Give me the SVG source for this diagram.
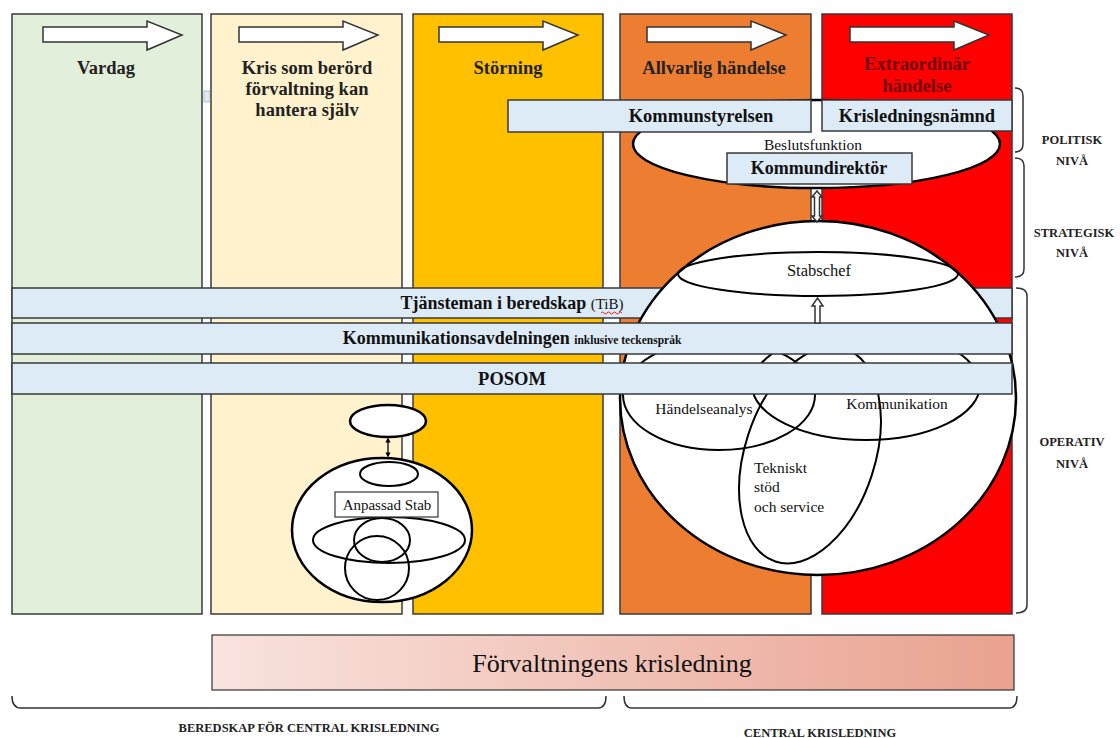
<svg xmlns="http://www.w3.org/2000/svg" width="1120" height="738" viewBox="0 0 1120 738" font-family="'Liberation Serif','DejaVu Serif',serif">
<defs>
<style>
.col{stroke:#3a3a3a;stroke-width:1.5}
.band{fill:#DDEBF7;stroke:#3a3a3a;stroke-width:1.5}
.ell{fill:#fff;stroke:#000;stroke-width:2.5}
.in{fill:none;stroke:#000;stroke-width:2}
.t{font-family:"Liberation Serif","DejaVu Serif",serif;fill:#111}
.b{font-weight:bold}
.hdr{font-size:18.5px;font-weight:bold;text-anchor:middle;font-family:"Liberation Serif","DejaVu Serif",serif;fill:#222}
.lvl{font-size:12.5px;font-weight:bold;text-anchor:middle;font-family:"Liberation Serif","DejaVu Serif",serif;fill:#222}
.brace{fill:none;stroke:#333;stroke-width:1.5}
.arr{fill:#fff;stroke:#333;stroke-width:1.5}
</style>
<polygon id="blk" points="31,27 135,27 135,21 170,35 135,50 135,42 31,42"/>
<linearGradient id="gr" x1="0" y1="0" x2="1" y2="0">
<stop offset="0" stop-color="#F9E3DF"/>
<stop offset="1" stop-color="#E9A28F"/>
</linearGradient>
<marker id="dh" viewBox="0 0 6 6" refX="3" refY="3" markerWidth="4" markerHeight="4" orient="auto-start-reverse"><path d="M0,0 L6,3 L0,6 z" fill="#000"/></marker>
</defs>
<rect width="1120" height="738" fill="#fff"/>

<g id="columns">
<g id="col-vardag"><rect class="col" x="12" y="14" width="190" height="600" fill="#E2EFDA"/><use href="#blk" x="12" class="arr"/><text class="hdr" x="106" y="74">Vardag</text></g>
<g id="col-kris"><rect class="col" x="211" y="14" width="191" height="600" fill="#FFF2CC"/><use href="#blk" x="208" class="arr"/><text class="hdr" x="307" y="74">Kris som berörd</text><text class="hdr" x="307" y="95">förvaltning kan</text><text class="hdr" x="307" y="116">hantera själv</text></g>
<g id="col-storning"><rect class="col" x="413" y="14" width="190" height="600" fill="#FFC000"/><use href="#blk" x="408" class="arr"/><text class="hdr" x="508" y="74">Störning</text></g>
<g id="col-allvarlig"><rect class="col" x="620" y="14" width="191" height="600" fill="#ED7D31"/><use href="#blk" x="616" class="arr"/><text class="hdr" x="714" y="74">Allvarlig händelse</text></g>
<g id="col-extra"><rect class="col" x="822" y="14" width="190" height="600" fill="#FF0000"/><use href="#blk" x="819" class="arr"/><text class="hdr" x="917" y="70" style="fill:#6e0000">Extraordinär</text><text class="hdr" x="917" y="92" style="fill:#6e0000">händelse</text></g>
<rect x="204" y="91" width="6" height="11" fill="#DDEBF7" stroke="#888" stroke-width="0.5"/>
</g>

<g id="beslutsfunktion">
<ellipse class="ell" cx="816.5" cy="144" rx="183.5" ry="44"/>
<text class="t" x="813" y="150" font-size="15.5" text-anchor="middle">Beslutsfunktion</text>
</g>
<g id="kommunstyrelsen"><rect class="band" x="508" y="100" width="303" height="32"/><text class="t b" x="701" y="122" font-size="18.5" text-anchor="middle">Kommunstyrelsen</text></g>
<g id="krisledningsnamnd"><rect class="band" x="822" y="100" width="190" height="31"/><text class="t b" x="917" y="122" font-size="18.5" text-anchor="middle">Krisledningsnämnd</text></g>
<g id="kommundirektor"><rect class="band" x="727" y="153" width="185" height="31"/><text class="t b" x="819" y="174" font-size="18" text-anchor="middle">Kommundirektör</text></g>

<g id="tib"><rect class="band" x="12" y="288" width="1000" height="30"/><text class="t" x="512" y="309" text-anchor="middle"><tspan class="b" font-size="18">Tjänsteman i beredskap </tspan><tspan font-size="15">(TiB)</tspan></text>
<path d="M601,313 q1.5,-2 3,0 t3,0 t3,0 t3,0 t3,0 t3,0 t3,0" fill="none" stroke="#e02020" stroke-width="1"/></g>

<g id="stab">
<ellipse class="ell" cx="818" cy="398" rx="198" ry="177"/>
<ellipse class="in" cx="818" cy="274" rx="140" ry="22"/>
<text class="t" x="819" y="276" font-size="16.5" text-anchor="middle">Stabschef</text>
<ellipse class="in" cx="719" cy="395" rx="96" ry="55"/>
<ellipse class="in" cx="866" cy="385" rx="114" ry="55"/>
<ellipse class="in" cx="810" cy="455" rx="65" ry="112" transform="rotate(18 810 455)"/>
</g>

<g id="kommunikationsavdelningen"><rect class="band" x="12" y="323" width="1000" height="31"/><text class="t" x="512" y="344" text-anchor="middle"><tspan class="b" font-size="18">Kommunikationsavdelningen </tspan><tspan class="b" font-size="11.5">inklusive teckenspråk</tspan></text></g>
<g id="posom"><rect class="band" x="12" y="363" width="1000" height="31"/><text class="t b" x="512" y="385" font-size="18.5" text-anchor="middle">POSOM</text></g>

<g id="stab-labels">
<text class="t" x="704" y="414" font-size="15.5" text-anchor="middle">Händelseanalys</text>
<text class="t" x="897" y="409" font-size="15.5" text-anchor="middle">Kommunikation</text>
<text class="t" x="754" y="473" font-size="15.5">Tekniskt</text>
<text class="t" x="754" y="492" font-size="15.5">stöd</text>
<text class="t" x="754" y="512" font-size="15.5">och service</text>
</g>

<g id="anpassad-stab">
<ellipse class="ell" cx="388" cy="421" rx="38" ry="16" stroke-width="2"/>
<ellipse class="ell" cx="382" cy="530" rx="90" ry="72"/>
<ellipse class="in" cx="389" cy="474" rx="29" ry="12"/>
<ellipse class="in" cx="389" cy="540" rx="76" ry="23"/>
<ellipse class="in" cx="382" cy="540" rx="28" ry="22"/>
<ellipse class="in" cx="377" cy="568" rx="32" ry="32"/>
<rect x="335" y="492" width="103" height="25" fill="#fff" stroke="#333" stroke-width="1.2"/>
<text class="t" x="387" y="510" font-size="15" text-anchor="middle">Anpassad Stab</text>
</g>

<g id="connectors">
<polygon class="arr" points="817,191 822,197 819.5,197 819.5,216 822,216 817,222 812,216 814.5,216 814.5,197 812,197"/>
<polygon class="arr" points="817.5,298 823,306 820,306 820,323 815,323 815,306 812,306"/>
<line x1="388" y1="440" x2="388" y2="455" stroke="#000" stroke-width="1.3" marker-start="url(#dh)" marker-end="url(#dh)"/>
</g>

<g id="levels">
<path class="brace" d="M1015,88 Q1023,88 1023,96 L1023,144 Q1023,152 1015,152"/>
<path class="brace" d="M1015,158 Q1024,158 1024,166 L1024,269 Q1024,277 1015,277"/>
<path class="brace" d="M1016,288 Q1027,288 1027,296 L1027,605 Q1027,613 1016,613"/>
<text class="lvl" x="1072" y="144">POLITISK</text><text class="lvl" x="1072" y="165">NIVÅ</text>
<text class="lvl" x="1074" y="237">STRATEGISK</text><text class="lvl" x="1072" y="257">NIVÅ</text>
<text class="lvl" x="1072" y="446">OPERATIV</text><text class="lvl" x="1072" y="468">NIVÅ</text>
</g>

<g id="forvaltningens-krisledning">
<rect x="212" y="635" width="802" height="55" fill="url(#gr)" stroke="#333" stroke-width="1.2"/>
<text class="t" x="612" y="672" font-size="26" text-anchor="middle">Förvaltningens krisledning</text>
</g>

<g id="bottom-braces">
<path class="brace" d="M12,696 Q12,708 21,708 L598,708 Q606,708 606,696"/>
<path class="brace" d="M624,696 Q624,708 632,708 L1009,708 Q1017,708 1017,696"/>
<text class="lvl" x="309" y="732" font-size="12.8">BEREDSKAP FÖR CENTRAL KRISLEDNING</text>
<text class="lvl" x="820" y="737" font-size="12.8">CENTRAL KRISLEDNING</text>
</g>
</svg>
